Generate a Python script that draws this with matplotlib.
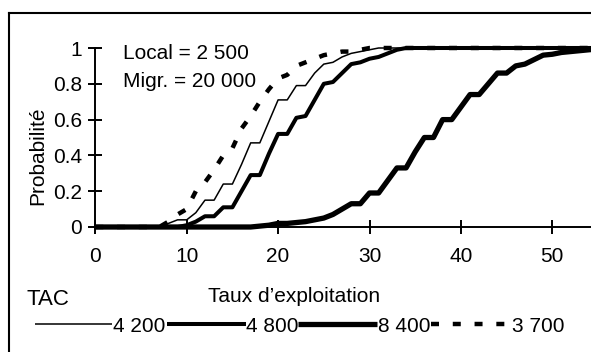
import numpy as np
import matplotlib.pyplot as plt
from matplotlib.lines import Line2D

plt.rcParams['font.family'] = ['Liberation Sans', 'DejaVu Sans']

# taux d'exploitation
x = np.arange(0, 56)

# TAC 4 200 (thin line)
p4200 = [0]*7 + [0.0, 0.02, 0.04, 0.04, 0.08, 0.15, 0.15, 0.24, 0.24, 0.35, 0.47, 0.47,
                 0.59, 0.71, 0.71, 0.79, 0.79, 0.86, 0.91, 0.92, 0.95, 0.97, 0.98, 0.99] + [1.0]*25
# TAC 4 800
p4800 = [0]*9 + [0.0, 0.01, 0.03, 0.06, 0.06, 0.11, 0.11, 0.20, 0.29, 0.29, 0.41, 0.52, 0.52,
                 0.61, 0.62, 0.71, 0.80, 0.81, 0.86, 0.91, 0.92, 0.94, 0.95, 0.97, 0.99] + [1.0]*22
# TAC 8 400
p8400 = [0]*18 + [0.005, 0.01, 0.02, 0.02, 0.025, 0.03, 0.04, 0.05, 0.07, 0.10, 0.13, 0.13,
                  0.19, 0.19, 0.26, 0.33, 0.33, 0.42, 0.50, 0.50, 0.60, 0.60, 0.67, 0.74, 0.74,
                  0.80, 0.86, 0.86, 0.90, 0.91, 0.935, 0.96, 0.965, 0.975, 0.98, 0.985, 0.99, 0.995]
# TAC 3 700 (dotted)
p3700 = [0]*7 + [0.0, 0.03, 0.07, 0.10, 0.20, 0.25, 0.32, 0.40, 0.44, 0.55, 0.62, 0.70, 0.77,
                 0.83, 0.85, 0.90, 0.92, 0.94, 0.96, 0.97, 0.98, 0.98, 0.99] + [1.0]*26

labels = ['4 200', '4 800', '8 400', '3 700']
series = [p4200, p4800, p8400, p3700]
widths = [1.1, 2.9, 3.8, 3.2]
styles = ['-', '-', '-', (0, (1.8, 3.1))]

W, H = 591, 352
fig = plt.figure(figsize=(W/100, H/100), dpi=100)

def fx(px): return px / W
def fy(py): return 1 - py / H

FS = 15
x0, x1 = 95.3, 95.3 + 55*9.14
ax = fig.add_axes([fx(x0), fy(227), (x1 - x0)/W, 179/H])
for s, lw, ls in zip(series, widths, styles):
    ax.plot(x, s, color='black', lw=lw, ls=ls, clip_on=False,
            solid_capstyle='butt', dash_capstyle='butt')

ax.set_xlim(0, 55)
ax.set_ylim(0, 1)
ax.set_xticks([0, 10, 20, 30, 40, 50])
ax.set_yticks([0, 0.2, 0.4, 0.6, 0.8, 1])
ax.set_yticklabels(['0', '0.2', '0.4', '0.6', '0.8', '1'])
for sp in ['top', 'right']:
    ax.spines[sp].set_visible(False)
for sp in ['left', 'bottom']:
    ax.spines[sp].set_linewidth(1.4)
ax.tick_params(axis='both', direction='inout', length=10.5, width=1.4, labelsize=FS)
ax.tick_params(axis='x', pad=9)
ax.tick_params(axis='y', pad=4.5)

fig.text(fx(43.3), fy(156), 'Probabilité', fontsize=FS, rotation=90,
         rotation_mode='anchor', ha='center', va='baseline')

fig.text(fx(123), fy(59.3), 'Local = 2 500', fontsize=FS, va='baseline')
fig.text(fx(123), fy(87.3), 'Migr. = 20 000', fontsize=FS, va='baseline')

fig.text(fx(26.5), fy(305), 'TAC', fontsize=16, va='baseline')
fig.text(fx(208), fy(302), 'Taux d\u2019exploitation', fontsize=FS, va='baseline', ha='left')

# legend row
ly = fy(324)
segs = [(35, 112.5), (167, 245.5), (298, 377), (431, 511)]
for (a, b), lab, lw, ls in zip(segs, labels, widths, styles):
    fig.add_artist(Line2D([fx(a), fx(b)], [ly, ly], color='black', lw=lw, ls=ls,
                          solid_capstyle='butt', dash_capstyle='butt'))
    fig.text(fx(b + 0.5), fy(332), lab, fontsize=FS, va='baseline', ha='left')

# outer frame
fig.add_artist(Line2D([fx(9.5), fx(9.5)], [fy(12.8), 0], color='black', lw=1.5))
fig.add_artist(Line2D([fx(9.5), 1], [fy(12.8), fy(12.8)], color='black', lw=1.5))

fig.savefig('out.png', dpi=100)
